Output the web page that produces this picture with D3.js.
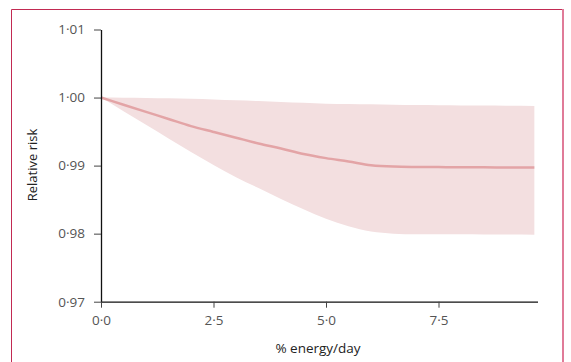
<!DOCTYPE html>
<html>
<head>
<meta charset="utf-8">
<script src="https://cdn.jsdelivr.net/npm/d3@7"></script>
<style>
  body { margin: 0; background: #fff; }
  svg { display: block; font-family: "Open Sans", sans-serif; }
</style>
</head>
<body>
<div id="chart"></div>
<script>
// % energy/day
const energy = [0, 0.5, 1, 1.5, 2, 2.5, 3, 3.5, 4, 4.5, 5, 5.5, 6, 6.5, 7, 7.5, 8, 8.5, 9, 9.63];
const riskEstimate = [1.0, 0.99895, 0.9979, 0.99685, 0.9958, 0.99495, 0.9941, 0.99325, 0.9925, 0.9917, 0.9911, 0.9906, 0.99005, 0.98985, 0.9898, 0.98978, 0.98976, 0.98975, 0.98973, 0.98971];
const riskUpper = [1.0, 0.99998, 0.99995, 0.9999, 0.99983, 0.99972, 0.9996, 0.99948, 0.99935, 0.99922, 0.9991, 0.99905, 0.999, 0.99895, 0.9989, 0.99887, 0.99885, 0.99882, 0.9988, 0.99876];
const riskLower = [1.0, 0.998, 0.996, 0.994, 0.992, 0.9901, 0.9883, 0.9867, 0.9851, 0.9836, 0.9822, 0.9811, 0.9803, 0.98, 0.9799, 0.97992, 0.9799, 0.97988, 0.97986, 0.97985];
const xTicks = [0, 2.5, 5, 7.5];
const yTicks = [0.97, 0.98, 0.99, 1.0, 1.01];

const width = 571;
const height = 362;

const svg = d3.select("#chart")
  .append("svg")
  .attr("width", width)
  .attr("height", height);

// panel frame (bottom runs off the page)
svg.append("line").attr("x1", 11.5).attr("x2", 563).attr("y1", 9.5).attr("y2", 9.5)
  .attr("stroke", "#c22a52").attr("stroke-width", 1);
svg.append("line").attr("x1", 11.5).attr("x2", 11.5).attr("y1", 9.5).attr("y2", height)
  .attr("stroke", "#c22a52").attr("stroke-width", 1);
svg.append("line").attr("x1", 563).attr("x2", 563).attr("y1", 9).attr("y2", height)
  .attr("stroke", "#e07b98").attr("stroke-width", 2);

const x = d3.scaleLinear().domain([0, 9.7]).range([101, 537.5]);
const y = d3.scaleLinear().domain([0.97, 1.01]).range([301.7, 29.5]);

const data = energy.map((e, i) => ({
  e, est: riskEstimate[i], hi: riskUpper[i], lo: riskLower[i]
}));

const fmt = (f) => (d) => d3.format(f)(d).replace(".", "\u00b7");

// confidence band
svg.append("path")
  .datum(data)
  .attr("fill", "#f3dfe0")
  .attr("d", d3.area()
    .x((d) => x(d.e))
    .y0((d) => y(d.lo))
    .y1((d) => y(d.hi))
    .curve(d3.curveMonotoneX));

// estimate line
svg.append("path")
  .datum(data)
  .attr("fill", "none")
  .attr("stroke", "#e3a4a6")
  .attr("stroke-width", 2.5)
  .attr("d", d3.line()
    .x((d) => x(d.e))
    .y((d) => y(d.est))
    .curve(d3.curveMonotoneX));

// y axis
const yAxis = svg.append("g")
  .attr("transform", `translate(${x(0)},0)`)
  .call(d3.axisLeft(y).tickValues(yTicks).tickFormat(fmt(".2f")).tickSize(7).tickSizeOuter(0).tickPadding(9));

// x axis
const xAxis = svg.append("g")
  .attr("transform", `translate(0,${y(0.97)})`)
  .call(d3.axisBottom(x).tickValues(xTicks).tickFormat(fmt(".1f")).tickSize(6).tickSizeOuter(0).tickPadding(8));

[yAxis, xAxis].forEach((g) => {
  g.select(".domain").attr("stroke", "#111").attr("stroke-width", 1.3);
  g.selectAll(".tick line").attr("stroke", "#444");
  g.selectAll(".tick text")
    .attr("fill", "#555")
    .style("font-size", "13.5px")
    .style("font-family", "Open Sans, sans-serif");
});

// axis titles
svg.append("text")
  .attr("x", 318)
  .attr("y", 353)
  .attr("text-anchor", "middle")
  .attr("fill", "#222")
  .style("font-size", "13.5px")
  .text("% energy/day");

svg.append("text")
  .attr("transform", "translate(37,165) rotate(-90)")
  .attr("text-anchor", "middle")
  .attr("fill", "#222")
  .style("font-size", "13px")
  .text("Relative risk");
</script>
</body>
</html>
